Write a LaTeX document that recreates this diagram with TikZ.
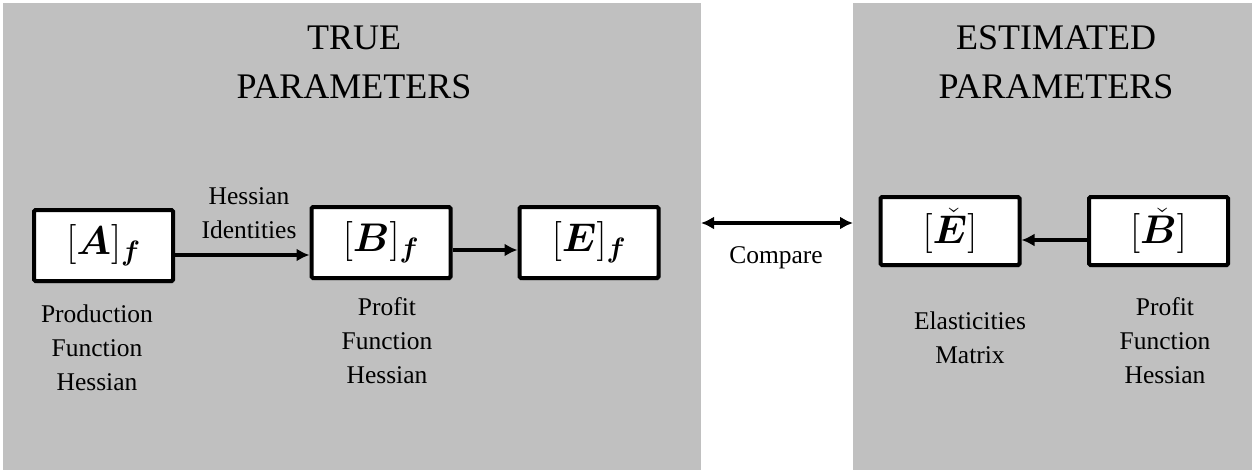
\RequirePackage{fix-cm}
\documentclass[tikz,border=0pt]{standalone}
\usepackage{fontspec}
\usepackage{amsmath,amssymb,bm}
\setmainfont{Liberation Serif}
\usetikzlibrary{arrows.meta,shadows}
\definecolor{panelgray}{RGB}{192,192,192}
\begin{document}
\begin{tikzpicture}[x=1pt,y=-1pt,
  panel/.style={fill=panelgray,draw=none},
  mbox/.style={draw=black,line width=4pt,fill=white,rounded corners=1.5pt,
    minimum width=139pt,minimum height=71pt,inner sep=0pt,
    font=\fontsize{40}{48}\selectfont,
    drop shadow={shadow xshift=1.5pt,shadow yshift=-2pt,opacity=0.35,fill=black}},
  title/.style={font=\fontsize{36}{49}\selectfont,align=center,text=black},
  lbl/.style={font=\fontsize{25.5}{34}\selectfont,align=center,text=black},
  arr/.style={line width=4pt,-{Latex[length=13pt,width=13pt]}},
  darr/.style={line width=4pt,{Latex[length=13pt,width=13pt]}-{Latex[length=13pt,width=13pt]}}]
\useasboundingbox (0,0) rectangle (1252,472);
\fill[white] (0,0) rectangle (1252,472);
\fill[panel] (3,3) rectangle (701,470);
\fill[panel] (853,3) rectangle (1252,470);
% titles
\node[title] (t1) at (354,62) {TRUE\\PARAMETERS};
\node[title] (t2) at (1056,62) {ESTIMATED\\PARAMETERS};
% boxes
\node[mbox] (A) at (103.5,245.5) {$[\boldsymbol{A}]_{\boldsymbol{f}}$};
\node[mbox] (B) at (381,242.5) {$[\boldsymbol{B}]_{\boldsymbol{f}}$};
\node[mbox] (E) at (589,242.5) {$[\boldsymbol{E}]_{\boldsymbol{f}}$};
\node[mbox,minimum height=68pt] (Eh) at (950,231) {$[\check{\boldsymbol{E}}]$};
\node[mbox,minimum height=68pt] (Bh) at (1158.5,231) {$[\check{\boldsymbol{B}}]$};
% labels
\node[lbl] (lA) at (97,348) {Production\\Function\\Hessian};
\node[lbl] (lB) at (387,341) {Profit\\Function\\Hessian};
\node[lbl] (lEh) at (970,338) {Elasticities\\Matrix};
\node[lbl] (lBh) at (1165,341) {Profit\\Function\\Hessian};
\node[lbl] (hi) at (249,213) {Hessian\\Identities};
\node[lbl] (cmp) at (776,258) {Compare};
% arrows
\draw[arr] ([yshift=-9.5pt]A.east) -- ([yshift=-9.5pt]A.east -| B.west);
\draw[arr] ([yshift=-7.5pt]B.east) -- ([yshift=-7.5pt]B.east -| E.west);
\draw[arr] ([yshift=-9pt]Bh.west) -- ([yshift=-9pt]Bh.west -| Eh.east);
\coordinate (c1) at (701,223);
\coordinate (c2) at (853,223);
\draw[darr] (c1) -- (c2);
\end{tikzpicture}
\end{document}
